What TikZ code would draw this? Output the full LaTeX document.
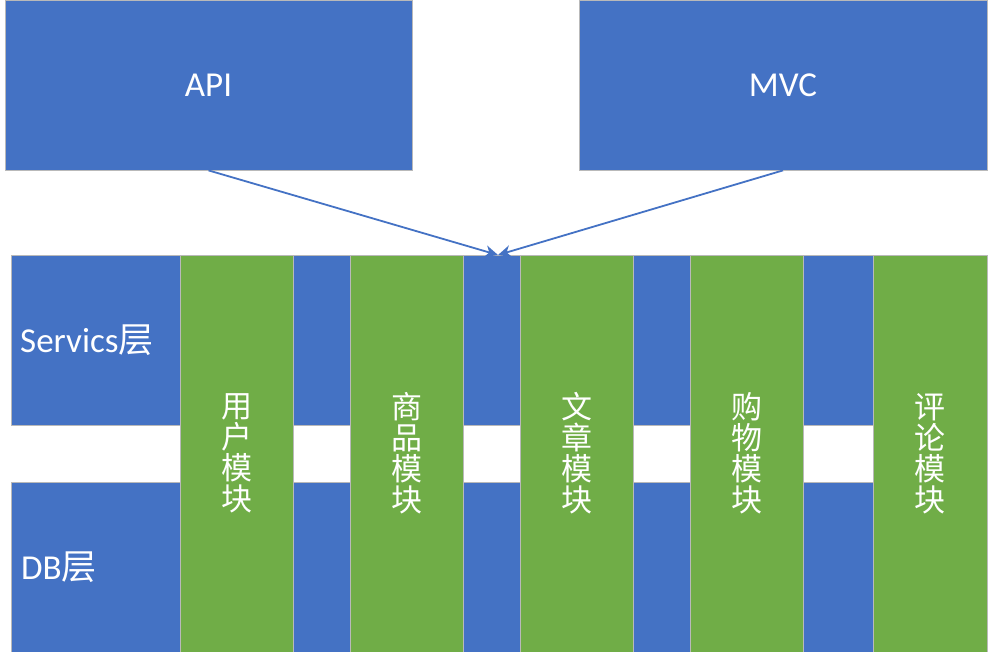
\documentclass[tikz,border=0pt]{standalone}
\usepackage{fontspec}
\setmainfont{Carlito}
\newfontfamily\cjk{Noto Sans CJK SC}
\usetikzlibrary{arrows.meta}

\definecolor{boxblue}{HTML}{4472C4}
\definecolor{boxgreen}{HTML}{70AD47}

\begin{document}
\begin{tikzpicture} [x=1pt, y=-1pt,
        layer/.style={draw=gray!55, line width=0.8pt, fill=boxblue, inner sep=0pt},
        module/.style={draw=gray!55, line width=0.8pt, fill=boxgreen, inner sep=0pt,
            minimum width=113pt, minimum height=397pt, text=white, align=center,
            font=\cjk\fontsize{31}{31}\selectfont},
        caption/.style={text=white, font=\fontsize{35}{40}\selectfont, inner sep=0pt},
        link/.style={draw=boxblue, line width=1.8pt, -{Stealth[length=13pt,width=12pt,inset=4pt]}}]
            \useasboundingbox (0,0) rectangle (988,652);

            \node[layer, minimum width=407pt, minimum height=170pt, caption] (api) at (208.5, 85) {API};
            \node[layer, minimum width=408pt, minimum height=170pt, caption] (mvc) at (783, 85) {MVC};

            \node[layer, minimum width=976pt, minimum height=170pt] (serv) at (499, 340) {};
            \node[layer, minimum width=976pt, minimum height=170pt] (db) at (499, 567) {};

            \node[module] (user) at (236.5, 453.5)  {用\\户\\模\\块};
            \node[module] (goods) at (406.5, 453.5) {商\\品\\模\\块};
            \node[module] (post) at (576.5, 453.5)  {文\\章\\模\\块};
            \node[module] (cart) at (746.5, 453.5)  {购\\物\\模\\块};
            \node[module, minimum width=114pt] (review) at (930, 453.5) {评\\论\\模\\块};

            \node[caption, anchor=west] (servtext) at (20, 340) {Servics{\cjk 层}};
            \node[caption, anchor=west] (dbtext) at (21, 567) {DB{\cjk 层}};

            \coordinate (hub) at (498, 255);
            \draw[link] (api.south) -- (hub);
            \draw[link] (mvc.south) -- (hub);
        \end{tikzpicture}
\end{document}
